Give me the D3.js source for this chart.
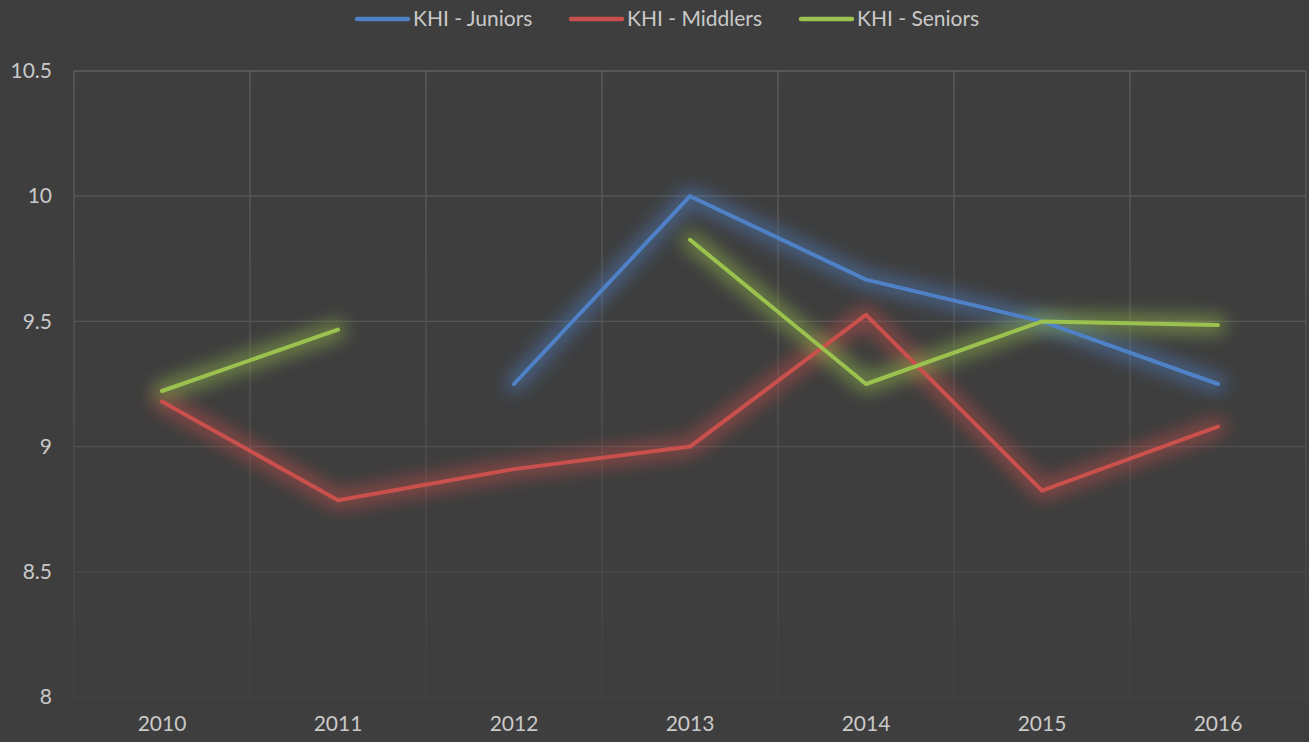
<!DOCTYPE html>
<html>
<head>
<meta charset="utf-8">
<script src="https://cdn.jsdelivr.net/npm/d3@7"></script>
<style>
  html, body { margin: 0; padding: 0; background: #3e3e3e; }
  svg { display: block; }
  text { font-family: Lato, "Open Sans", sans-serif; fill: #c9c9c9; }
</style>
</head>
<body>
<svg id="chart" width="1309" height="742"></svg>
<script>
// Years along the category axis
const years = ["2010", "2011", "2012", "2013", "2014", "2015", "2016"];
// KHI scores per group (null = no survey that year)
const juniors  = [null, null, 9.25, 10.0, 9.667, 9.5, 9.25];
const middlers = [9.18, 8.786, 8.91, 9.0, 9.526, 8.824, 9.08];
const seniors  = [9.222, 9.467, null, 9.826, 9.25, 9.5, 9.486];
const seriesNames = ["KHI - Juniors", "KHI - Middlers", "KHI - Seniors"];
const seriesColors = ["#4f81c6", "#c9504c", "#9bc24e"];
const yTicks = [8, 8.5, 9, 9.5, 10, 10.5];

const W = 1309, H = 742;
const margin = { top: 71, right: 3, bottom: 45, left: 74 };
const svg = d3.select("#chart");

const x = d3.scaleBand().domain(years).range([margin.left, W - margin.right]);
const y = d3.scaleLinear().domain([8, 10.5]).range([H - margin.bottom, margin.top]);

const defs = svg.append("defs");
// Gridlines fade out toward the bottom of the plot
const grad = defs.append("linearGradient")
  .attr("id", "gridFade").attr("gradientUnits", "userSpaceOnUse")
  .attr("x1", 0).attr("x2", 0).attr("y1", y(10.5)).attr("y2", y(8));
grad.append("stop").attr("offset", "0").attr("stop-color", "#5e5e5e");
grad.append("stop").attr("offset", "0.55").attr("stop-color", "#525252");
grad.append("stop").attr("offset", "1").attr("stop-color", "#424242");

const glow = defs.append("filter").attr("id", "glow")
  .attr("x", "-20%").attr("y", "-40%").attr("width", "140%").attr("height", "180%");
glow.append("feGaussianBlur").attr("in", "SourceGraphic").attr("stdDeviation", 9).attr("result", "b");
glow.append("feComponentTransfer").attr("in", "b").attr("result", "bf")
  .append("feFuncA").attr("type", "linear").attr("slope", 0.8);

// Horizontal gridlines
svg.append("g").selectAll("line").data(yTicks).join("line")
  .attr("x1", margin.left).attr("x2", W - margin.right)
  .attr("y1", d => y(d)).attr("y2", d => y(d))
  .attr("stroke", "url(#gridFade)").attr("stroke-width", 1.3);

// Vertical gridlines at category boundaries
const bounds = years.map(d => x(d)).concat([x(years[years.length - 1]) + x.bandwidth()]);
svg.append("g").selectAll("line").data(bounds).join("line")
  .attr("x1", d => d).attr("x2", d => d)
  .attr("y1", y(10.5)).attr("y2", y(8))
  .attr("stroke", "url(#gridFade)").attr("stroke-width", 1.3);

// Axis labels
const yAxis = svg.append("g").attr("transform", `translate(${margin.left - 22},0)`)
  .call(d3.axisLeft(y).tickValues(yTicks).tickSize(0).tickPadding(0).tickFormat(d3.format("~g")));
yAxis.select(".domain").remove();
yAxis.selectAll("text").style("font-size", "21px").attr("fill", "#c9c9c9");

const xAxis = svg.append("g").attr("transform", `translate(0,${y(8) + 19})`)
  .call(d3.axisBottom(x).tickSize(0).tickPadding(0));
xAxis.select(".domain").remove();
xAxis.selectAll("text").style("font-size", "21px").attr("fill", "#c9c9c9");

// Series lines with a soft glow underneath
const allSeries = [juniors, middlers, seniors];
const line = d3.line()
  .defined(d => d.v !== null)
  .x(d => x(d.year) + x.bandwidth() / 2)
  .y(d => y(d.v));

allSeries.forEach((vals, i) => {
  const pts = years.map((yr, j) => ({ year: yr, v: vals[j] }));
  svg.append("path").attr("d", line(pts)).attr("fill", "none")
    .attr("stroke", seriesColors[i]).attr("stroke-width", 17)
    .attr("stroke-linejoin", "round").attr("stroke-linecap", "round")
    .attr("filter", "url(#glow)").attr("opacity", 0.7);
});
allSeries.forEach((vals, i) => {
  const pts = years.map((yr, j) => ({ year: yr, v: vals[j] }));
  svg.append("path").attr("d", line(pts)).attr("fill", "none")
    .attr("stroke", seriesColors[i]).attr("stroke-width", 4)
    .attr("stroke-linejoin", "round").attr("stroke-linecap", "round");
});

// Legend
const legendX = [357, 571, 801];
const legend = svg.append("g");
seriesNames.forEach((name, i) => {
  legend.append("line")
    .attr("x1", legendX[i]).attr("x2", legendX[i] + 51)
    .attr("y1", 19).attr("y2", 19)
    .attr("stroke", seriesColors[i]).attr("stroke-width", 4.5).attr("stroke-linecap", "round");
  legend.append("text")
    .attr("x", legendX[i] + 56).attr("y", 19).attr("dy", "0.35em")
    .style("font-size", "21px").text(name);
});
</script>
</body>
</html>
